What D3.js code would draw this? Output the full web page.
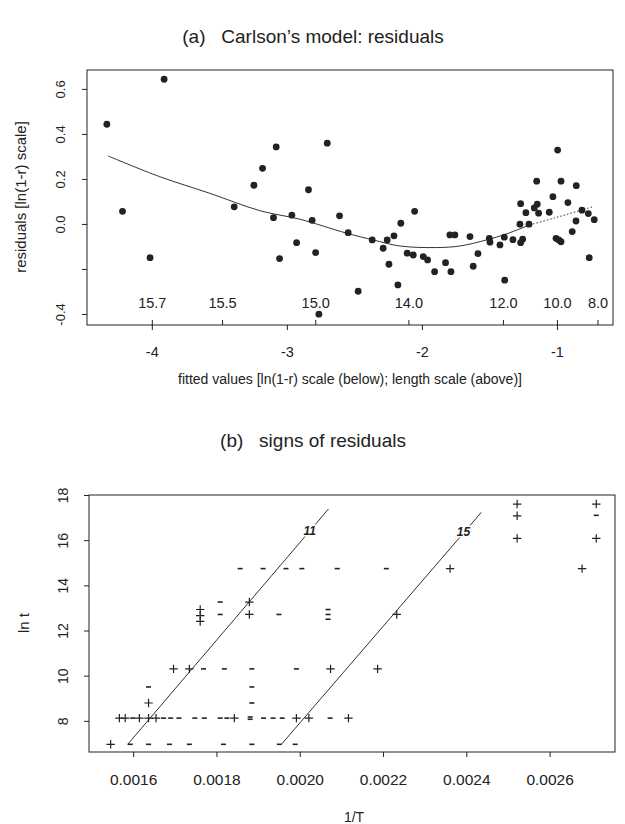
<!DOCTYPE html>
<html>
<head>
<meta charset="utf-8">
<script src="https://cdnjs.cloudflare.com/ajax/libs/d3/7.8.5/d3.min.js"></script>
<style>
  body { margin: 0; background: #fff; }
  text { font-family: "Liberation Sans", Arial, sans-serif; fill: #222; }
</style>
</head>
<body>
<script>
// (a) residuals against fitted values
const fitted = [-4.333, -3.909, -4.217, -4.013, -3.39, -3.244, -3.18, -3.079, -3.099, -2.963,
  -2.84, -2.813, -2.928, -3.054, -2.787, -2.763, -2.701, -2.61, -2.546, -2.472,
  -2.368, -2.287, -2.257, -2.207, -2.244, -2.178, -2.156, -2.054, -2.109, -2.064,
  -1.99, -1.958, -1.906, -1.825, -1.785, -1.793, -1.756, -1.644, -1.585, -1.62,
  -1.501, -1.496, -1.422, -1.39, -1.387, -1.326, -1.269, -1.254, -1.274, -1.207,
  -1.269, -1.23, -1.15, -1.168, -1.146, -1.136, -1.057, -1.03, -0.995, -0.97,
  -1.007, -0.987, -0.97, -0.919, -0.857, -0.859, -0.887, -0.815, -0.768, -0.724, -0.761];
const resid = [0.443, 0.643, 0.056, -0.15, 0.076, 0.172, 0.247, 0.342, 0.028, 0.039,
  0.152, 0.016, -0.083, -0.154, -0.127, -0.401, 0.359, 0.036, -0.039, -0.299,
  -0.071, -0.108, -0.071, -0.053, -0.179, -0.271, 0.003, 0.056, -0.13, -0.138,
  -0.145, -0.16, -0.212, -0.172, -0.212, -0.049, -0.049, -0.056, -0.132, -0.188,
  -0.064, -0.081, -0.093, -0.059, -0.25, -0.07, -0.083, -0.068, -0.001, -0.001,
  0.09, 0.05, 0.19, 0.071, 0.088, 0.048, 0.052, 0.121, 0.328, 0.19,
  -0.064, -0.071, -0.079, 0.095, 0.17, 0.013, -0.034, 0.061, 0.046, 0.019, -0.15];
// smooth curve; solid up to -1.2, dotted beyond
const smoothF = [-4.324, -3.941, -3.57, -3.2, -2.904, -2.558, -2.361, -2.163, -1.891, -1.719, -1.521, -1.373, -1.2];
const smoothR = [0.302, 0.21, 0.136, 0.059, 0.021, -0.041, -0.071, -0.098, -0.105, -0.098, -0.071, -0.044, -0.004];
const dottedF = [-1.2, -1.027, -0.73];
const dottedR = [-0.004, 0.025, 0.077];
const fitTicks = [-4, -3, -2, -1];
const resTicks = [0.6, 0.4, 0.2, 0.0, -0.2, -0.4];
const lengthLabels = ["15.7", "15.5", "15.0", "14.0", "12.0", "10.0", "8.0"];
const lengthAt = [-4.0, -3.48, -2.79, -2.1, -1.4, -1.0, -0.7];

// (b) signs of residuals
const plusT = [0.001546, 0.001567, 0.001581, 0.001615, 0.001637, 0.001655, 0.001843, 0.001992, 0.002022, 0.002117,
  0.001637, 0.001697, 0.001735, 0.002074, 0.002187, 0.001761, 0.001761, 0.001761, 0.001879, 0.001879,
  0.002233, 0.002361, 0.002678, 0.002522, 0.002522, 0.002522, 0.002712, 0.002712];
const plusLnt = [6.96, 8.12, 8.12, 8.12, 8.12, 8.12, 8.12, 8.12, 8.12, 8.12,
  8.79, 10.3, 10.3, 10.3, 10.3, 12.4, 12.66, 12.93, 12.71, 13.26,
  12.71, 14.74, 14.74, 17.6, 17.08, 16.08, 17.6, 16.08];
const minusT = [0.001593, 0.001637, 0.001687, 0.001735, 0.001817, 0.001885, 0.001951, 0.001989,
  0.001599, 0.001673, 0.00169, 0.00171, 0.001748, 0.001771, 0.001809, 0.001825, 0.001881, 0.001881, 0.001913, 0.001936, 0.001958, 0.002073,
  0.001885, 0.001637, 0.001885, 0.001769, 0.001819, 0.001885, 0.001992,
  0.001809, 0.001809, 0.00195, 0.002068, 0.002068, 0.002068,
  0.001857, 0.001912, 0.001967, 0.002005, 0.00209, 0.002208, 0.002712];
const minusLnt = [6.96, 6.96, 6.96, 6.96, 6.96, 6.96, 6.96, 6.96,
  8.12, 8.12, 8.12, 8.12, 8.12, 8.12, 8.12, 8.12, 8.07, 8.17, 8.12, 8.12, 8.12, 8.12,
  8.79, 9.5, 9.5, 10.3, 10.3, 10.3, 10.3,
  12.71, 13.26, 12.71, 12.5, 12.71, 12.93,
  14.74, 14.74, 14.74, 14.74, 14.74, 14.74, 17.1];
const contourNames = ["11", "15"];
const contourT0 = [0.001587, 0.001957];
const contourL0 = [6.96, 6.98];
const contourT1 = [0.002069, 0.002436];
const contourL1 = [17.38, 17.23];
const contourLabT = [0.002024, 0.002393];
const contourLabL = [16.41, 16.34];
const invTTicks = [0.0016, 0.0018, 0.0020, 0.0022, 0.0024, 0.0026];
const lntTicks = [8, 10, 12, 14, 16, 18];

const W = 625, H = 824;
const svg = d3.select("body").append("svg").attr("width", W).attr("height", H);
const ink = "#222";

function styleAxis(g, size) {
  g.select(".domain").remove();
  g.selectAll("line").attr("stroke", ink);
  g.selectAll("text").attr("font-size", size).attr("fill", ink);
}

// ---------- panel (a)
const xA = d3.scaleLinear().domain([-4.48, -0.585]).range([87, 613]);
const yA = d3.scaleLinear().domain([-0.449, 0.684]).range([325, 70]);

svg.append("text").attr("x", 313).attr("y", 43).attr("text-anchor", "middle")
  .attr("font-size", 19).attr("xml:space", "preserve").text("(a)   Carlson\u2019s model: residuals");

svg.append("rect").attr("x", 87).attr("y", 70).attr("width", 526).attr("height", 255)
  .attr("fill", "none").attr("stroke", ink).attr("stroke-width", 1);

const axA = svg.append("g").attr("transform", "translate(0,325)")
  .call(d3.axisBottom(xA).tickValues(fitTicks).tickSize(5).tickFormat(d => String(d)));
// length scale ticks pointing up from the same axis
const axL = svg.append("g").attr("transform", "translate(0,325)")
  .call(d3.axisTop(xA).tickValues(lengthAt).tickSize(5)
    .tickFormat((d, i) => lengthLabels[i]));
const ayA = svg.append("g").attr("transform", "translate(87,0)")
  .call(d3.axisLeft(yA).tickValues(resTicks).tickSize(5)
    .tickFormat(d => d === -0.2 ? "" : d.toFixed(1)));
styleAxis(axA, 14.5);
styleAxis(axL, 14.5);
styleAxis(ayA, 13);
axA.selectAll("text").attr("y", 32).attr("dy", 0);
axL.selectAll("text").attr("y", -17).attr("dy", 0);

svg.append("text").attr("transform", "translate(26,197) rotate(-90)").attr("text-anchor", "middle")
  .attr("font-size", 15).text("residuals [ln(1-r) scale]");
svg.append("text").attr("x", 350).attr("y", 384).attr("text-anchor", "middle")
  .attr("font-size", 14).text("fitted values [ln(1-r) scale (below); length scale (above)]");

const lineA = d3.line().x(d => xA(d[0])).y(d => yA(d[1])).curve(d3.curveCatmullRom);
svg.append("path").attr("d", lineA(d3.zip(smoothF, smoothR)))
  .attr("fill", "none").attr("stroke", "#333").attr("stroke-width", 1);
svg.append("path").attr("d", lineA(d3.zip(dottedF, dottedR)))
  .attr("fill", "none").attr("stroke", "#333").attr("stroke-width", 1).attr("stroke-dasharray", "1.5,2");

svg.append("g").selectAll("circle").data(d3.zip(fitted, resid)).enter().append("circle")
  .attr("cx", d => xA(d[0])).attr("cy", d => yA(d[1])).attr("r", 3.4).attr("fill", ink);

// ---------- panel (b)
const xB = d3.scaleLinear().domain([0.001494, 0.002757]).range([89, 615]);
const yB = d3.scaleLinear().domain([6.62, 18.0]).range([752, 495]);

svg.append("text").attr("x", 313).attr("y", 447).attr("text-anchor", "middle")
  .attr("font-size", 19).attr("xml:space", "preserve").text("(b)   signs of residuals");

svg.append("rect").attr("x", 89).attr("y", 495).attr("width", 526).attr("height", 257)
  .attr("fill", "none").attr("stroke", ink).attr("stroke-width", 1);

const axB = svg.append("g").attr("transform", "translate(0,752)")
  .call(d3.axisBottom(xB).tickValues(invTTicks).tickSize(5).tickFormat(d => d.toFixed(4)));
const ayB = svg.append("g").attr("transform", "translate(89,0)")
  .call(d3.axisLeft(yB).tickValues(lntTicks).tickSize(5).tickFormat(d => String(d)));
styleAxis(axB, 15.5);
styleAxis(ayB, 14);
axB.selectAll("text").attr("y", 33).attr("dy", 0);
// rotated y tick labels (tick groups already carry the y offset)
ayA.selectAll("text").attr("text-anchor", "middle").attr("x", 0).attr("y", -22).attr("dy", 0)
  .attr("transform", "rotate(-90)");
ayB.selectAll("text").attr("text-anchor", "middle").attr("x", 0).attr("y", -21).attr("dy", 0)
  .attr("transform", "rotate(-90)");

svg.append("text").attr("transform", "translate(29,623) rotate(-90)").attr("text-anchor", "middle")
  .attr("font-size", 15).text("ln t");
svg.append("text").attr("x", 354).attr("y", 822).attr("text-anchor", "middle")
  .attr("font-size", 14).text("1/T");

// contour lines with labels
contourNames.forEach((name, i) => {
  svg.append("line")
    .attr("x1", xB(contourT0[i])).attr("y1", yB(contourL0[i]))
    .attr("x2", xB(contourT1[i])).attr("y2", yB(contourL1[i]))
    .attr("stroke", "#333").attr("stroke-width", 1);
  svg.append("text").attr("x", xB(contourLabT[i])).attr("y", yB(contourLabL[i]) + 4)
    .attr("text-anchor", "middle").attr("font-family", "Liberation Serif, serif")
    .attr("font-style", "italic").attr("font-weight", "bold").attr("font-size", 12)
    .attr("stroke", "#fff").attr("stroke-width", 3).attr("paint-order", "stroke")
    .text(name);
});

const plusG = svg.append("g");
plusG.selectAll("path").data(d3.zip(plusT, plusLnt)).enter().append("path")
  .attr("d", d => {
    const x = xB(d[0]), y = yB(d[1]);
    return `M${x - 4.2},${y}H${x + 4.2}M${x},${y - 4.2}V${y + 4.2}`;
  })
  .attr("stroke", ink).attr("stroke-width", 1.2).attr("fill", "none");

const minusG = svg.append("g");
minusG.selectAll("path").data(d3.zip(minusT, minusLnt)).enter().append("path")
  .attr("d", d => {
    const x = xB(d[0]), y = yB(d[1]);
    return `M${x - 2.5},${y}H${x + 2.5}`;
  })
  .attr("stroke", ink).attr("stroke-width", 1.6).attr("fill", "none");
</script>
</body>
</html>
